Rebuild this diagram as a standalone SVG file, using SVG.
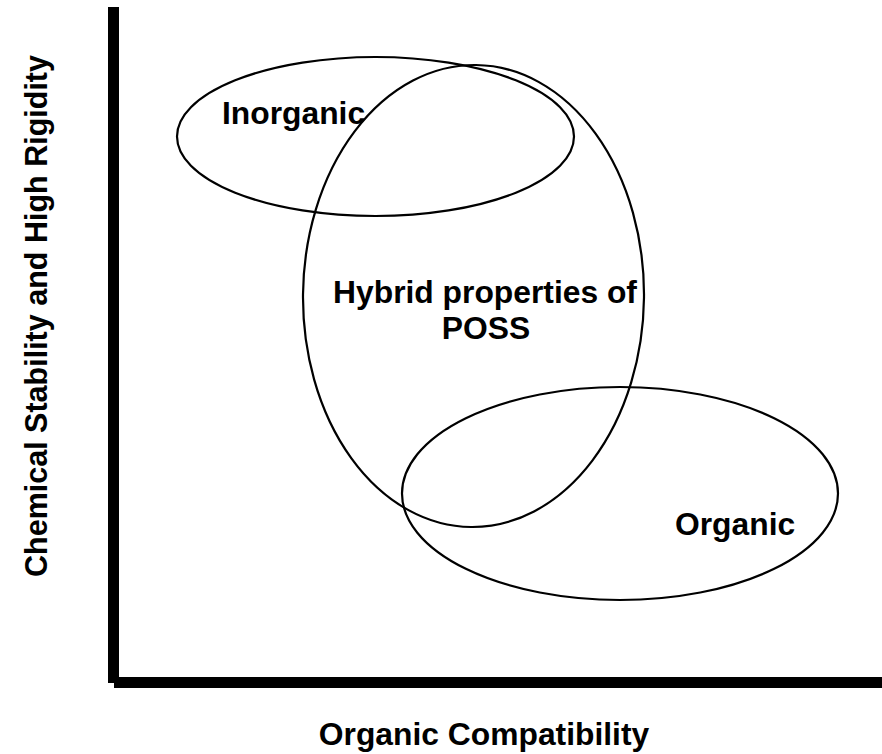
<svg xmlns="http://www.w3.org/2000/svg" width="882" height="754" viewBox="0 0 882 754">
<style>
.shape{fill:none;stroke:#000;stroke-width:2.2}
.lbl{font-family:"Liberation Sans",Arial,sans-serif;font-weight:bold;font-size:31.8px;fill:#000}
.axis{fill:#000}
</style>
<rect width="882" height="754" fill="#fff"/>
<g id="axes">
<rect class="axis" x="108" y="7" width="11" height="676"/>
<rect class="axis" x="114" y="677" width="768" height="11"/>
</g>
<g id="inorganic">
<ellipse class="shape" cx="375.5" cy="136.5" rx="198.5" ry="79.5"/>
<text class="lbl" x="222" y="124">Inorganic</text>
</g>
<g id="hybrid">
<ellipse class="shape" cx="473.5" cy="296" rx="170.5" ry="231" transform="rotate(0.6 473.5 296)"/>
<text class="lbl" x="485" y="303" text-anchor="middle">Hybrid properties of</text>
<text class="lbl" x="486" y="339" text-anchor="middle">POSS</text>
</g>
<g id="organic">
<ellipse class="shape" cx="620" cy="493.5" rx="218" ry="106.5"/>
<text class="lbl" x="675" y="535">Organic</text>
</g>
<g id="labels">
<text class="lbl" x="484" y="745" text-anchor="middle">Organic Compatibility</text>
<text class="lbl" style="font-size:30.5px" transform="translate(47 316) rotate(-90)" text-anchor="middle">Chemical Stability and High Rigidity</text>
</g>
</svg>
